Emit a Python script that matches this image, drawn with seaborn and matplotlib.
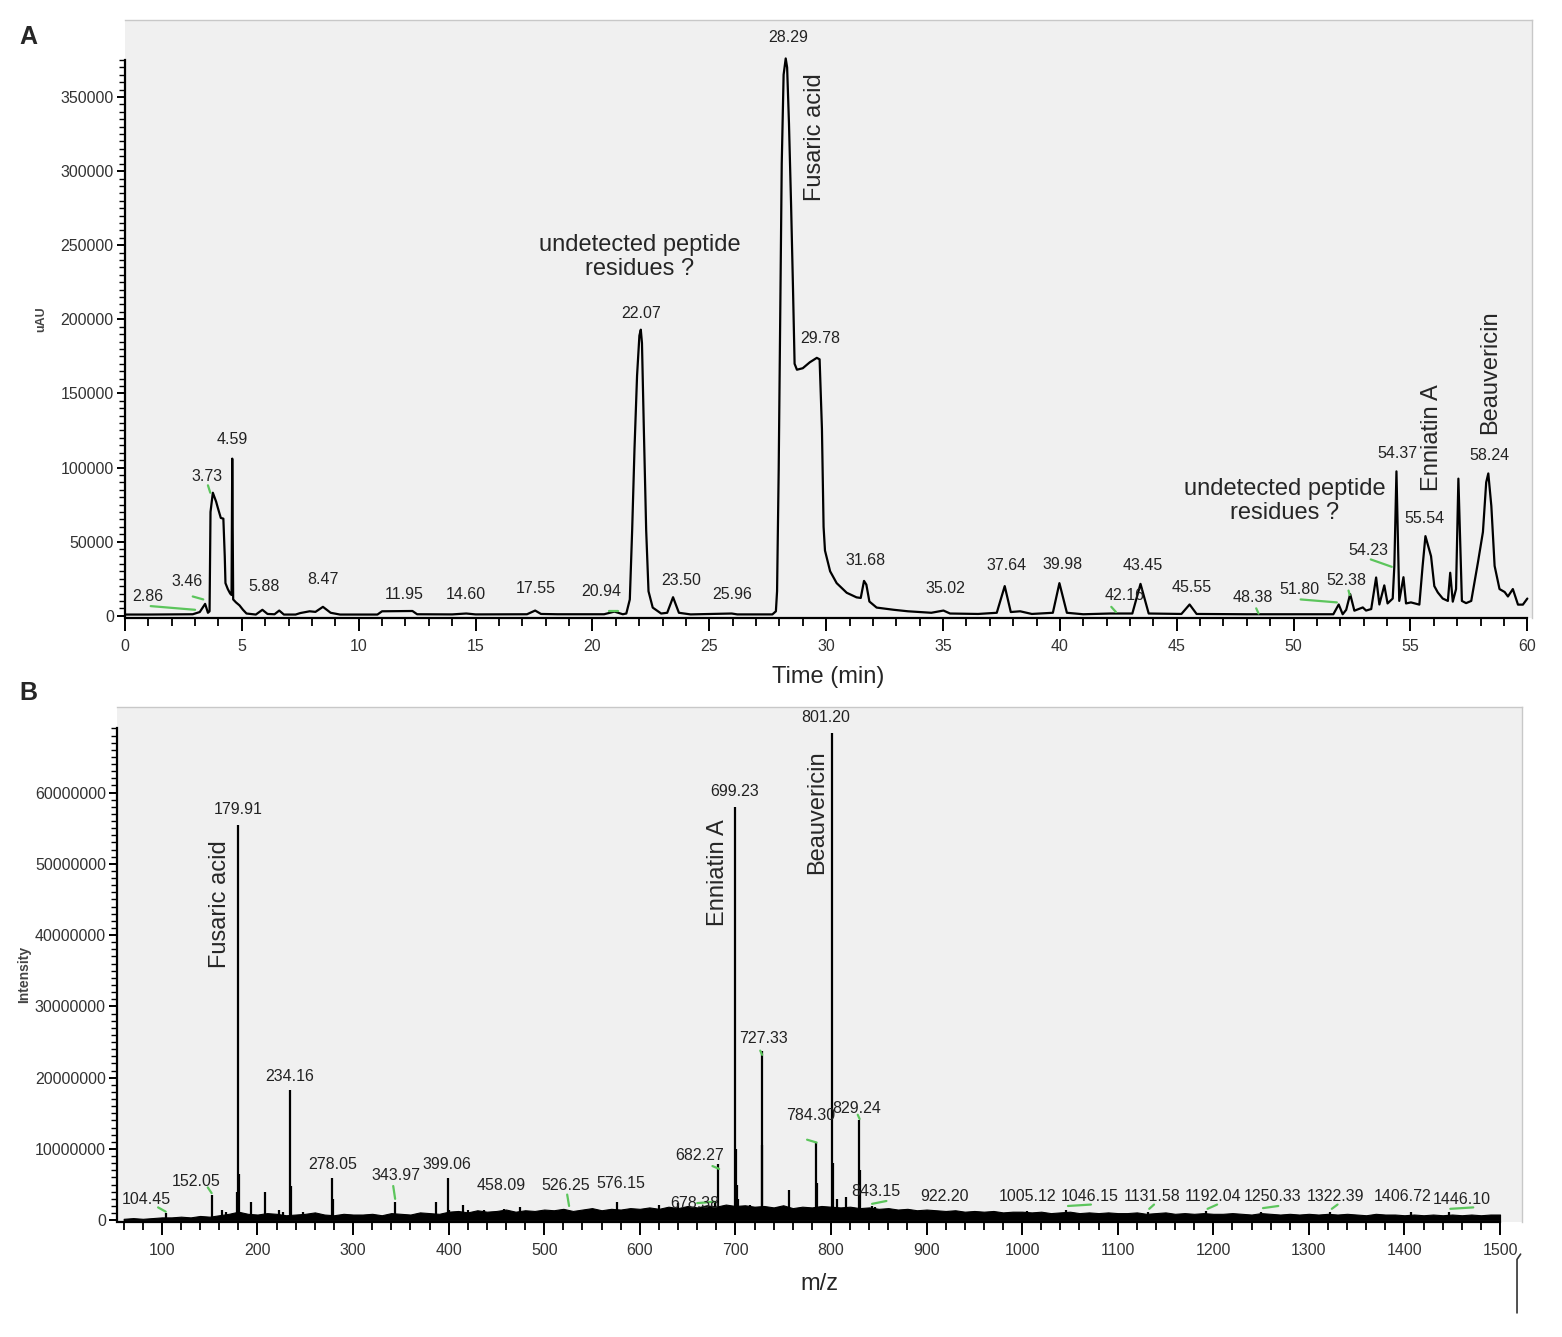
import numpy as np
import pandas as pd
import matplotlib
matplotlib.use("Agg")
import matplotlib.pyplot as plt
import matplotlib.ticker as mticker
from matplotlib.lines import Line2D
import seaborn as sns

# ---------------- data: panel A (chromatogram) ----------------
rt_min = [0.0, 1.0, 2.0, 2.9, 3.2, 3.43, 3.55, 3.62, 3.66, 3.76, 3.9, 3.97, 4.1, 4.21,
          4.27, 4.3, 4.4, 4.5, 4.56, 4.59, 4.63, 4.75, 4.9, 5.05, 5.2, 5.6, 5.88, 6.1,
          6.4, 6.6, 6.8, 7.3, 7.5, 7.9, 8.15, 8.47, 8.8, 9.2, 10.8, 11.0, 12.3, 12.5,
          14.0, 14.6, 15.0, 17.2, 17.55, 17.8, 18.5, 20.5, 20.94, 21.3, 21.45, 21.6,
          21.7, 21.8, 21.91, 22.01, 22.07, 22.12, 22.2, 22.3, 22.4, 22.58, 22.94, 23.2,
          23.45, 23.7, 24.2, 25.96, 26.2, 27.7, 27.85, 27.9, 27.97, 28.04, 28.1, 28.18,
          28.27, 28.33, 28.41, 28.5, 28.58, 28.65, 28.75, 29.0, 29.3, 29.6, 29.72,
          29.82, 29.89, 29.95, 30.17, 30.45, 30.88, 31.3, 31.48, 31.62, 31.72, 31.85,
          32.16, 32.9, 33.5, 34.5, 35.02, 35.3, 36.5, 37.3, 37.64, 37.9, 38.3, 38.8,
          39.7, 39.98, 40.3, 41.0, 42.16, 43.1, 43.45, 43.8, 45.2, 45.55, 45.85, 48.0,
          51.7, 51.93, 52.1, 52.25, 52.42, 52.6, 52.96, 53.1, 53.32, 53.53, 53.67,
          53.88, 54.02, 54.24, 54.31, 54.4, 54.52, 54.7, 54.81, 55.02, 55.38, 55.52,
          55.64, 55.88, 56.02, 56.17, 56.38, 56.6, 56.7, 56.81, 56.95, 57.05, 57.2,
          57.38, 57.6, 57.89, 58.1, 58.24, 58.33, 58.46, 58.6, 58.81, 59.03, 59.17,
          59.38, 59.6, 59.81, 60.0]
uau = [800, 800, 900, 1000, 2500, 8000, 2000, 3000, 70000, 83000, 77000, 73000, 66000, 65500,
       40000, 22000, 18000, 15000, 14000, 106000, 11000, 9000, 7000, 4000, 1500, 800, 4000, 1200,
       1000, 3500, 800, 800, 1800, 3000, 2600, 6000, 2000, 800, 800, 3000, 3200, 1000,
       900, 1500, 900, 1000, 3500, 1200, 1000, 1000, 2800, 1000, 1500, 11000,
       57600, 112500, 162000, 189000, 193000, 184000, 126000, 57600, 16500, 5500, 1500, 2000,
       12500, 2000, 900, 1500, 900, 900, 3000, 16500, 99000, 208000, 305000, 365000,
       376000, 370000, 332000, 277000, 222000, 170000, 166000, 167000, 171000, 174000, 173000,
       126000, 60000, 44000, 30000, 22000, 15500, 12400, 12000, 23500, 21000, 9600,
       5500, 4000, 3000, 2000, 3500, 1500, 1200, 2000, 20000, 2500, 3000, 1200,
       2000, 22000, 2000, 1000, 1500, 1500, 21500, 1500, 1200, 7600, 1200, 1000,
       1000, 7600, 1000, 4000, 14600, 3400, 5600, 3500, 4500, 25800, 7600,
       20500, 8300, 11600, 33600, 97400, 10000, 26000, 8300, 9000, 7500, 33600,
       53700, 40200, 20000, 15700, 11600, 10000, 29000, 9500, 18000, 92500, 10000,
       8500, 10000, 36300, 56500, 90000, 96000, 74000, 33600, 18000, 16000, 13000,
       18000, 7500, 7500, 11600]

# peak labels: text, x (min), y (uAU)
rt_labels = [("2.86", 0.98, 12800), ("3.46", 2.65, 22800), ("3.73", 3.51, 94000),
             ("4.59", 4.58, 119000), ("5.88", 5.95, 19500), ("8.47", 8.47, 24200),
             ("11.95", 11.93, 14100), ("14.60", 14.58, 14100), ("17.55", 17.58, 18100),
             ("20.94", 20.36, 16100), ("22.07", 22.07, 204000), ("23.50", 23.78, 23500),
             ("25.96", 25.96, 14100), ("28.29", 28.36, 390000), ("29.78", 29.73, 186800),
             ("31.68", 31.69, 37600), ("35.02", 35.12, 18100), ("37.64", 37.73, 33600),
             ("39.98", 40.11, 34300), ("42.16", 42.77, 13400), ("43.45", 43.54, 33600),
             ("45.55", 45.64, 18800), ("48.38", 48.25, 12100), ("51.80", 50.26, 17500),
             ("52.38", 52.27, 23500), ("54.23", 53.18, 44300), ("54.37", 54.45, 109600),
             ("55.54", 55.60, 65900), ("58.24", 58.38, 108200)]
rt_leaders = [((1.1, 3.0), (6500, 4000)), ((2.9, 3.35), (13000, 11000)),
              ((3.55, 3.65), (88000, 83000)), ((20.7, 21.1), (3500, 3500)),
              ((42.2, 42.4), (6000, 2500)), ((48.4, 48.5), (5000, 1500)),
              ((50.3, 51.85), (11000, 9000)), ((52.35, 52.4), (17000, 14000)),
              ((53.3, 54.2), (38000, 33000))]

# ---------------- data: panel B (mass spectrum) ----------------
mz_peaks = [104.45, 152.05, 163, 167, 179.0, 179.91, 180.9, 193, 208, 222, 227, 234.16,
            235.2, 248, 258, 278.05, 279.1, 343.97, 387, 399.06, 400.1, 415, 420, 437,
            458.09, 475, 526.25, 576.15, 620, 640, 678.38, 682.27, 699.23, 700.2, 701.5,
            703, 715, 720, 727.33, 728.3, 745, 756, 784.30, 785.3, 801.20, 802.2, 806,
            816, 829.24, 830.2, 843.15, 846, 858, 922.20, 1005.12, 1046.15, 1131.58,
            1192.04, 1250.33, 1322.39, 1406.72, 1446.10]
intensity_m = [1.0, 3.6, 1.5, 1.2, 4.0, 55.5, 6.5, 2.5, 4.0, 1.5, 1.2, 18.3,
               4.8, 1.1, 0.9, 5.9, 3.0, 2.5, 2.5, 5.9, 1.5, 2.2, 1.5, 1.4,
               1.6, 1.8, 1.3, 2.5, 2.2, 2.4, 2.6, 7.9, 58.0, 10.0, 5.0,
               3.0, 2.2, 1.8, 23.8, 10.5, 1.8, 4.2, 10.8, 5.2, 68.3, 8.0, 3.0,
               3.3, 14.0, 7.0, 2.0, 1.8, 1.6, 1.3, 1.3, 1.4, 1.2,
               1.3, 1.2, 1.2, 1.1, 1.1]  # x 1e6

# baseline grass envelope every 10 m/z from 60 to 1500 (x 1e5)
grass_mz = list(range(60, 1501, 10))
grass_e5 = [2, 3, 2, 3, 4,
            4, 5, 4, 6, 5, 7, 9,
            12, 9, 8, 10, 9, 7, 8, 9, 11, 8, 7, 9, 8,
            8, 9, 7, 10, 9, 8, 11, 10, 9, 12,
            13, 11, 14, 12, 13, 15, 12, 14, 13, 15,
            14, 16, 13, 15, 17, 14, 16, 15, 17, 16,
            18, 16, 19, 17, 20, 18, 21, 19, 22, 20,
            21, 19, 20, 18, 21, 17, 19, 18, 20, 19,
            18, 19, 17, 18, 16, 17, 15, 16, 14, 15,
            14, 13, 14, 12, 13, 12, 13, 11, 12, 12,
            11, 12, 10, 11, 12, 10, 11, 10, 11, 10,
            10, 11, 9, 10, 11, 9, 10, 9, 10, 9,
            9, 10, 9, 8, 10, 9, 8, 9, 8, 9,
            8, 9, 8, 9, 8, 7, 9, 8, 8, 7,
            8, 7, 8, 7, 8, 7, 8, 7, 8, 8]

mz_labels = [("104.45", 83.3, 2.94), ("152.05", 135.6, 5.45), ("179.91", 179.5, 57.6),
             ("234.16", 233.9, 20.1), ("278.05", 278.9, 7.83), ("343.97", 344.8, 6.29),
             ("399.06", 398.2, 7.83), ("458.09", 454.7, 4.9), ("526.25", 522.7, 4.9),
             ("576.15", 580.3, 5.17), ("678.38", 657.7, 2.38), ("682.27", 662.9, 9.09),
             ("699.23", 699.5, 60.1), ("727.33", 728.9, 25.5), ("784.30", 779.1, 14.7),
             ("801.20", 794.8, 70.5), ("829.24", 827.2, 15.7), ("843.15", 847.1, 4.06),
             ("922.20", 918.3, 3.36), ("1005.12", 1006.2, 3.36), ("1046.15", 1071.0, 3.36),
             ("1131.58", 1135.9, 3.36), ("1192.04", 1199.7, 3.36), ("1250.33", 1262.5, 3.36),
             ("1322.39", 1327.4, 3.36), ("1406.72", 1398.5, 3.36), ("1446.10", 1460.3, 2.94)]
mz_leaders = [((96, 104), (1.8, 1.2)), ((148, 152), (4.6, 3.8)), ((342, 344), (4.8, 3.0)),
              ((524, 526), (3.6, 2.0)), ((660, 678), (2.4, 2.6)), ((676, 683), (7.6, 7.2)),
              ((726, 728), (23.8, 23.2)), ((775, 785), (11.3, 10.9)), ((828, 830), (14.8, 14.2)),
              ((843, 858), (2.3, 2.7)), ((1048, 1072), (2.0, 2.2)), ((1133, 1138), (1.6, 2.2)),
              ((1194, 1204), (1.6, 2.2)), ((1252, 1268), (1.7, 2.0)), ((1324, 1330), (1.6, 2.2)),
              ((1448, 1472), (1.6, 1.8))]

# ---------------- style ----------------
sns.set_theme(style="ticks")
plt.rcParams['font.family'] = ['Liberation Sans', 'DejaVu Sans']
GREEN = "#5cc55c"
TICK_C = "#333333"
PANEL = "#f0f0f0"


def style_axes(ax):
    ax.set_facecolor(PANEL)
    for s in ("top", "right"):
        ax.spines[s].set_color("#c8c8c8")
        ax.spines[s].set_linewidth(1.0)
    for s in ("left", "bottom"):
        ax.spines[s].set_color("black")
        ax.spines[s].set_linewidth(1.6)
    ax.tick_params(axis="both", which="major", colors="black", labelcolor=TICK_C,
                   labelsize=11.5, width=1.4, direction="out")
    ax.tick_params(axis="x", which="major", length=9, pad=6)
    ax.tick_params(axis="x", which="minor", length=6, width=1.3, colors="black")
    ax.tick_params(axis="y", which="major", length=6, pad=2)
    ax.tick_params(axis="y", which="minor", length=4, width=1.0, colors="black")
    ax.grid(False)


fig = plt.figure(figsize=(15.62, 13.37), dpi=100)

# ---------------- panel A ----------------
axA = fig.add_axes([0.080, 0.5378, 0.9008, 0.4473])
style_axes(axA)
dfA = pd.DataFrame({"t": rt_min, "uAU": uau})
sns.lineplot(data=dfA, x="t", y="uAU", ax=axA, color="black", linewidth=1.6,
             estimator=None, sort=False)
axA.set_xlim(0, 60.2)
axA.set_ylim(-1500, 402000)
axA.spines["left"].set_bounds(0, 375000)
axA.spines["bottom"].set_bounds(0, 60)
axA.xaxis.set_major_locator(mticker.MultipleLocator(5))
axA.xaxis.set_minor_locator(mticker.MultipleLocator(1))
axA.yaxis.set_major_locator(mticker.FixedLocator(np.arange(0, 350001, 50000)))
axA.yaxis.set_minor_locator(mticker.FixedLocator(np.arange(0, 375001, 5000)))
axA.yaxis.set_major_formatter(mticker.FuncFormatter(lambda v, p: f"{int(v)}"))
axA.set_xlabel("Time (min)", fontsize=17, labelpad=9)
axA.set_ylabel("uAU", fontsize=9, fontweight="bold", color="#444444")
axA.yaxis.set_label_coords(-0.055, 0.50)

for txt, x, y in rt_labels:
    axA.text(x, y, txt, ha="center", va="center", fontsize=11.5, color="#222222")
for xs, ys in rt_leaders:
    axA.plot(xs, ys, color=GREEN, lw=1.6)

axA.text(22.03, 242000, "undetected peptide\nresidues ?", ha="center", va="center",
         fontsize=17, linespacing=1.15)
axA.text(49.61, 77300, "undetected peptide\nresidues ?", ha="center", va="center",
         fontsize=17, linespacing=1.15)
axA.text(29.51, 322600, "Fusaric acid", rotation=90, ha="center", va="center", fontsize=17)
axA.text(55.9, 120300, "Enniatin A", rotation=90, ha="center", va="center", fontsize=17)
axA.text(58.39, 164000, "Beauvericin", rotation=90, ha="center", va="center", fontsize=17)

# ---------------- panel B ----------------
axB = fig.add_axes([0.0749, 0.0860, 0.8995, 0.3852])
style_axes(axB)
grass = np.array(grass_e5) * 1e5
axB.fill_between(grass_mz, 0, grass, color="black", lw=0.8)
axB.vlines(mz_peaks, 0, np.array(intensity_m) * 1e6, color="black", lw=1.6)
axB.set_xlim(53, 1523)
axB.set_ylim(-250000, 72000000)
axB.spines["left"].set_bounds(0, 69000000)
axB.spines["bottom"].set_bounds(53, 1500)
axB.xaxis.set_major_locator(mticker.MultipleLocator(100))
axB.xaxis.set_minor_locator(mticker.FixedLocator(np.arange(60, 1501, 20)))
axB.yaxis.set_major_locator(mticker.FixedLocator(np.arange(0, 60000001, 10000000)))
axB.yaxis.set_minor_locator(mticker.FixedLocator(np.arange(0, 69000001, 1000000)))
axB.yaxis.set_major_formatter(mticker.FuncFormatter(lambda v, p: f"{int(v)}"))
axB.set_xlabel("m/z", fontsize=17, labelpad=11)
axB.set_ylabel("Intensity", fontsize=10, fontweight="bold", color="#444444")
axB.yaxis.set_label_coords(-0.061, 0.48)

for txt, x, y in mz_labels:
    axB.text(x, y * 1e6, txt, ha="center", va="center", fontsize=11.5, color="#222222")
for xs, ys in mz_leaders:
    axB.plot(xs, np.array(ys) * 1e6, color=GREEN, lw=1.6)

axB.text(160.7, 44.3e6, "Fusaric acid", rotation=90, ha="center", va="center", fontsize=17)
axB.text(681.8, 48.8e6, "Enniatin A", rotation=90, ha="center", va="center", fontsize=17)
axB.text(785.4, 57.2e6, "Beauvericin", rotation=90, ha="center", va="center", fontsize=17)

# panel letters and the small stray mark at lower right
fig.text(0.018, 0.972, "A", fontsize=18, fontweight="bold", ha="center", va="center")
fig.text(0.018, 0.482, "B", fontsize=18, fontweight="bold", ha="center", va="center")
fig.add_artist(Line2D([0.9712, 0.9712, 0.9735], [0.018, 0.058, 0.062],
                      color="#333333", lw=1.2, transform=fig.transFigure))

fig.savefig("out.png", dpi=100)
